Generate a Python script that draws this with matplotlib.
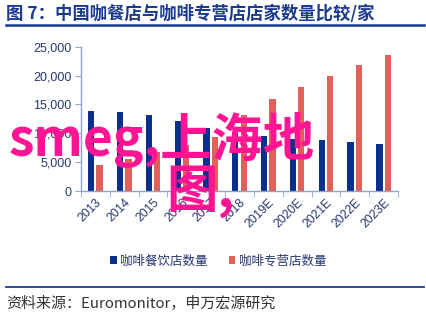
import matplotlib
matplotlib.use("Agg")
import matplotlib.pyplot as plt
from matplotlib.patches import Patch
from matplotlib.lines import Line2D
import numpy as np

plt.rcParams['font.family'] = ['Liberation Sans', 'Noto Sans CJK SC', 'DejaVu Sans']

categories = ["2013", "2014", "2015", "2016", "2017", "2018",
              "2019E", "2020E", "2021E", "2022E", "2023E"]
cafe_restaurants = [13800, 13700, 13200, 12150, 10950, 10000,
                    9550, 9000, 8800, 8450, 8150]
coffee_shops = [4500, 5500, 6700, 8000, 9400, 13200,
                15900, 18050, 19950, 21800, 23500]
series_names = ["咖啡餐饮店数量", "咖啡专营店数量"]
title = "图 7：中国咖餐店与咖啡专营店店家数量比较/家"
source = "资料来源：Euromonitor，申万宏源研究"
overlay1 = "smeg,上海地"
overlay2 = "图,"

W, H = 427, 314
fig = plt.figure(figsize=(W / 100, H / 100), dpi=100)
fig.patch.set_facecolor('white')

blue = '#0B2F8E'
red = '#E2605A'
navy = '#263870'
spine_c = '#8CA3CC'

ax = fig.add_axes([81 / W, 1 - 191 / H, (398 - 81) / W, (191 - 46.7) / H])
x = np.arange(len(categories))
bw = 0.22
off = 0.145
ax.bar(x - off, cafe_restaurants, bw, color=blue)
ax.bar(x + off, coffee_shops, bw, color=red)
ax.set_xlim(-0.5, len(categories) - 0.5)
ax.set_ylim(0, 25000)
ax.set_yticks(np.arange(0, 25001, 5000))
ax.set_yticklabels([f"{v:,}" for v in range(0, 25001, 5000)], fontsize=9, color=navy)
ax.set_xticks(x)
ax.set_xticklabels(categories, rotation=45, ha='right', rotation_mode='anchor',
                   fontsize=8.8, color=navy)
ax.tick_params(axis='x', length=0, pad=4)
ax.set_xticks(np.arange(-0.5, len(categories), 1), minor=True)
ax.tick_params(axis='x', which='minor', length=4, color=spine_c, direction='out')
ax.tick_params(axis='y', length=4, color=spine_c, direction='out', pad=3)
for s in ['top', 'right']:
    ax.spines[s].set_visible(False)
for s in ['left', 'bottom']:
    ax.spines[s].set_color(spine_c)
    ax.spines[s].set_linewidth(1.0)

# Title and rules
fig.text(6 / W, 1 - 14 / H, title, fontsize=12.5, fontweight='bold', color='#1A3A8F',
         ha='left', va='center', family=['Noto Sans CJK SC', 'DejaVu Sans'])
fig.add_artist(Line2D([6 / W, 424 / W], [1 - 24.5 / H, 1 - 24.5 / H], color='#1A3A8F', lw=1.8))
fig.add_artist(Line2D([6 / W, 424 / W], [1 - 287 / H, 1 - 287 / H], color='#1A3A8F', lw=1.3))
fig.text(6 / W, 1 - 304 / H, source, fontsize=10.8, color='#333333', ha='left', va='center',
         family=['Noto Sans CJK SC', 'DejaVu Sans'])

# Legend
handles = [Patch(facecolor=blue), Patch(facecolor=red)]
fig.legend(handles, series_names, loc='center', bbox_to_anchor=(218 / W, 1 - 261 / H),
           ncol=2, frameon=False, handlelength=0.55, handleheight=0.55,
           handletextpad=0.25, columnspacing=1.7,
           prop={'family': ['Noto Sans CJK SC'], 'size': 9}, labelcolor=navy)

# Overlay text
fig.text(9 / W, 1 - 156 / H, overlay1, fontsize=37, fontweight='bold', color='#FF1493',
         ha='left', va='baseline', family=['Noto Sans CJK SC', 'DejaVu Sans'])
fig.text(166 / W, 1 - 207 / H, overlay2, fontsize=37, fontweight='bold', color='#FF1493',
         ha='left', va='baseline', family=['Noto Sans CJK SC', 'DejaVu Sans'])

fig.savefig('out.png', dpi=100, facecolor='white')
